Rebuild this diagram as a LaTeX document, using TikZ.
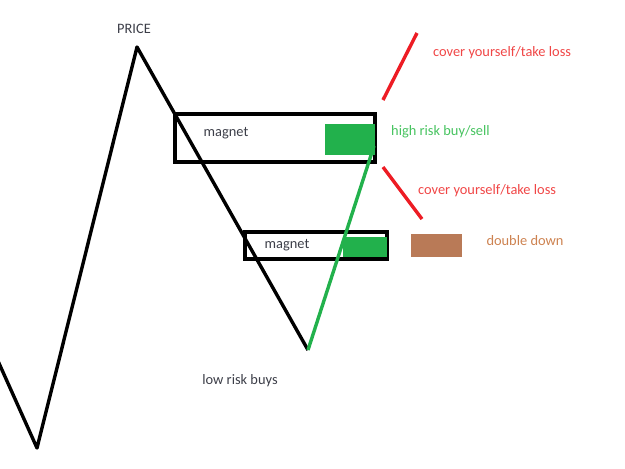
\documentclass[tikz,border=0pt]{standalone}
\usepackage{fontspec}
\setmainfont{Carlito}
\usepackage{tikz}
\usetikzlibrary{positioning}
\definecolor{txtgray}{RGB}{60,62,72}
\definecolor{mgreen}{RGB}{34,177,76}
\definecolor{lgreen}{RGB}{70,195,95}
\definecolor{mred}{RGB}{237,28,36}
\definecolor{tred}{RGB}{240,70,70}
\definecolor{mbrown}{RGB}{185,122,87}
\definecolor{tbrown}{RGB}{205,130,80}
\tikzset{
  zone/.style={draw=black, line width=3.2pt, inner sep=0pt},
  fillbox/.style={fill=#1, draw=none, inner sep=0pt},
  lbl/.style={font=\fontsize{14.4}{16}\selectfont, text=#1, inner sep=0pt},
  priceline/.style={line width=3.4pt, line join=round},
}

\begin{document}
\begin{tikzpicture}[x=1pt, y=-1pt]
		\useasboundingbox (0,0) rectangle (625,469);
		% price path
		\coordinate(start) at (-2,361);
		\coordinate(lowA) at (37,448);
		\coordinate(peak) at (137,47);
		\coordinate(lowB) at (308,350);
		\coordinate(hit) at (374,146);
		% zones
		\node(zoneA)[zone, minimum width=200pt, minimum height=48pt] at (275,138){};
		\node(zoneB)[zone, minimum width=142pt, minimum height=27pt] at (316,245.5){};
		\node(gA)[fillbox=mgreen, minimum width=50pt, minimum height=31pt] at (350,139.5){};
		\node(gB)[fillbox=mgreen, minimum width=44pt, minimum height=20pt] at (365,247){};
		\node(dd)[fillbox=mbrown, minimum width=51pt, minimum height=23pt] at (436.5,245.5){};
		\draw[priceline](start) -- (lowA) -- (peak) -- (lowB);
		\draw[priceline, mgreen](lowB) -- (hit);
		% stops
		\coordinate(upA) at (383,100);
		\coordinate(upB) at (417,33);
		\coordinate(dnA) at (383,167);
		\coordinate(dnB) at (422,219);
		\draw[line width=3.4pt, mred](upA) -- (upB);
		\draw[line width=3.4pt, mred](dnA) -- (dnB);
		% labels
		\node(price)[lbl=txtgray] at (134,29){PRICE};
		\node(magA)[lbl=txtgray] at (226,133){magnet};
		\node(magB)[lbl=txtgray] at (287,245){magnet};
		\node(low)[lbl=txtgray] at (240,381){low risk buys};
		\node(hrisk)[lbl=lgreen, anchor=west] at (391,132){high risk buy/sell};
		\node(coverA)[lbl=tred, anchor=west] at (433,53){cover yourself/take loss};
		\node(coverB)[lbl=tred, anchor=west] at (418,191){cover yourself/take loss};
		\node(double)[lbl=tbrown] at (525,241){double down};
	\end{tikzpicture}
\end{document}
